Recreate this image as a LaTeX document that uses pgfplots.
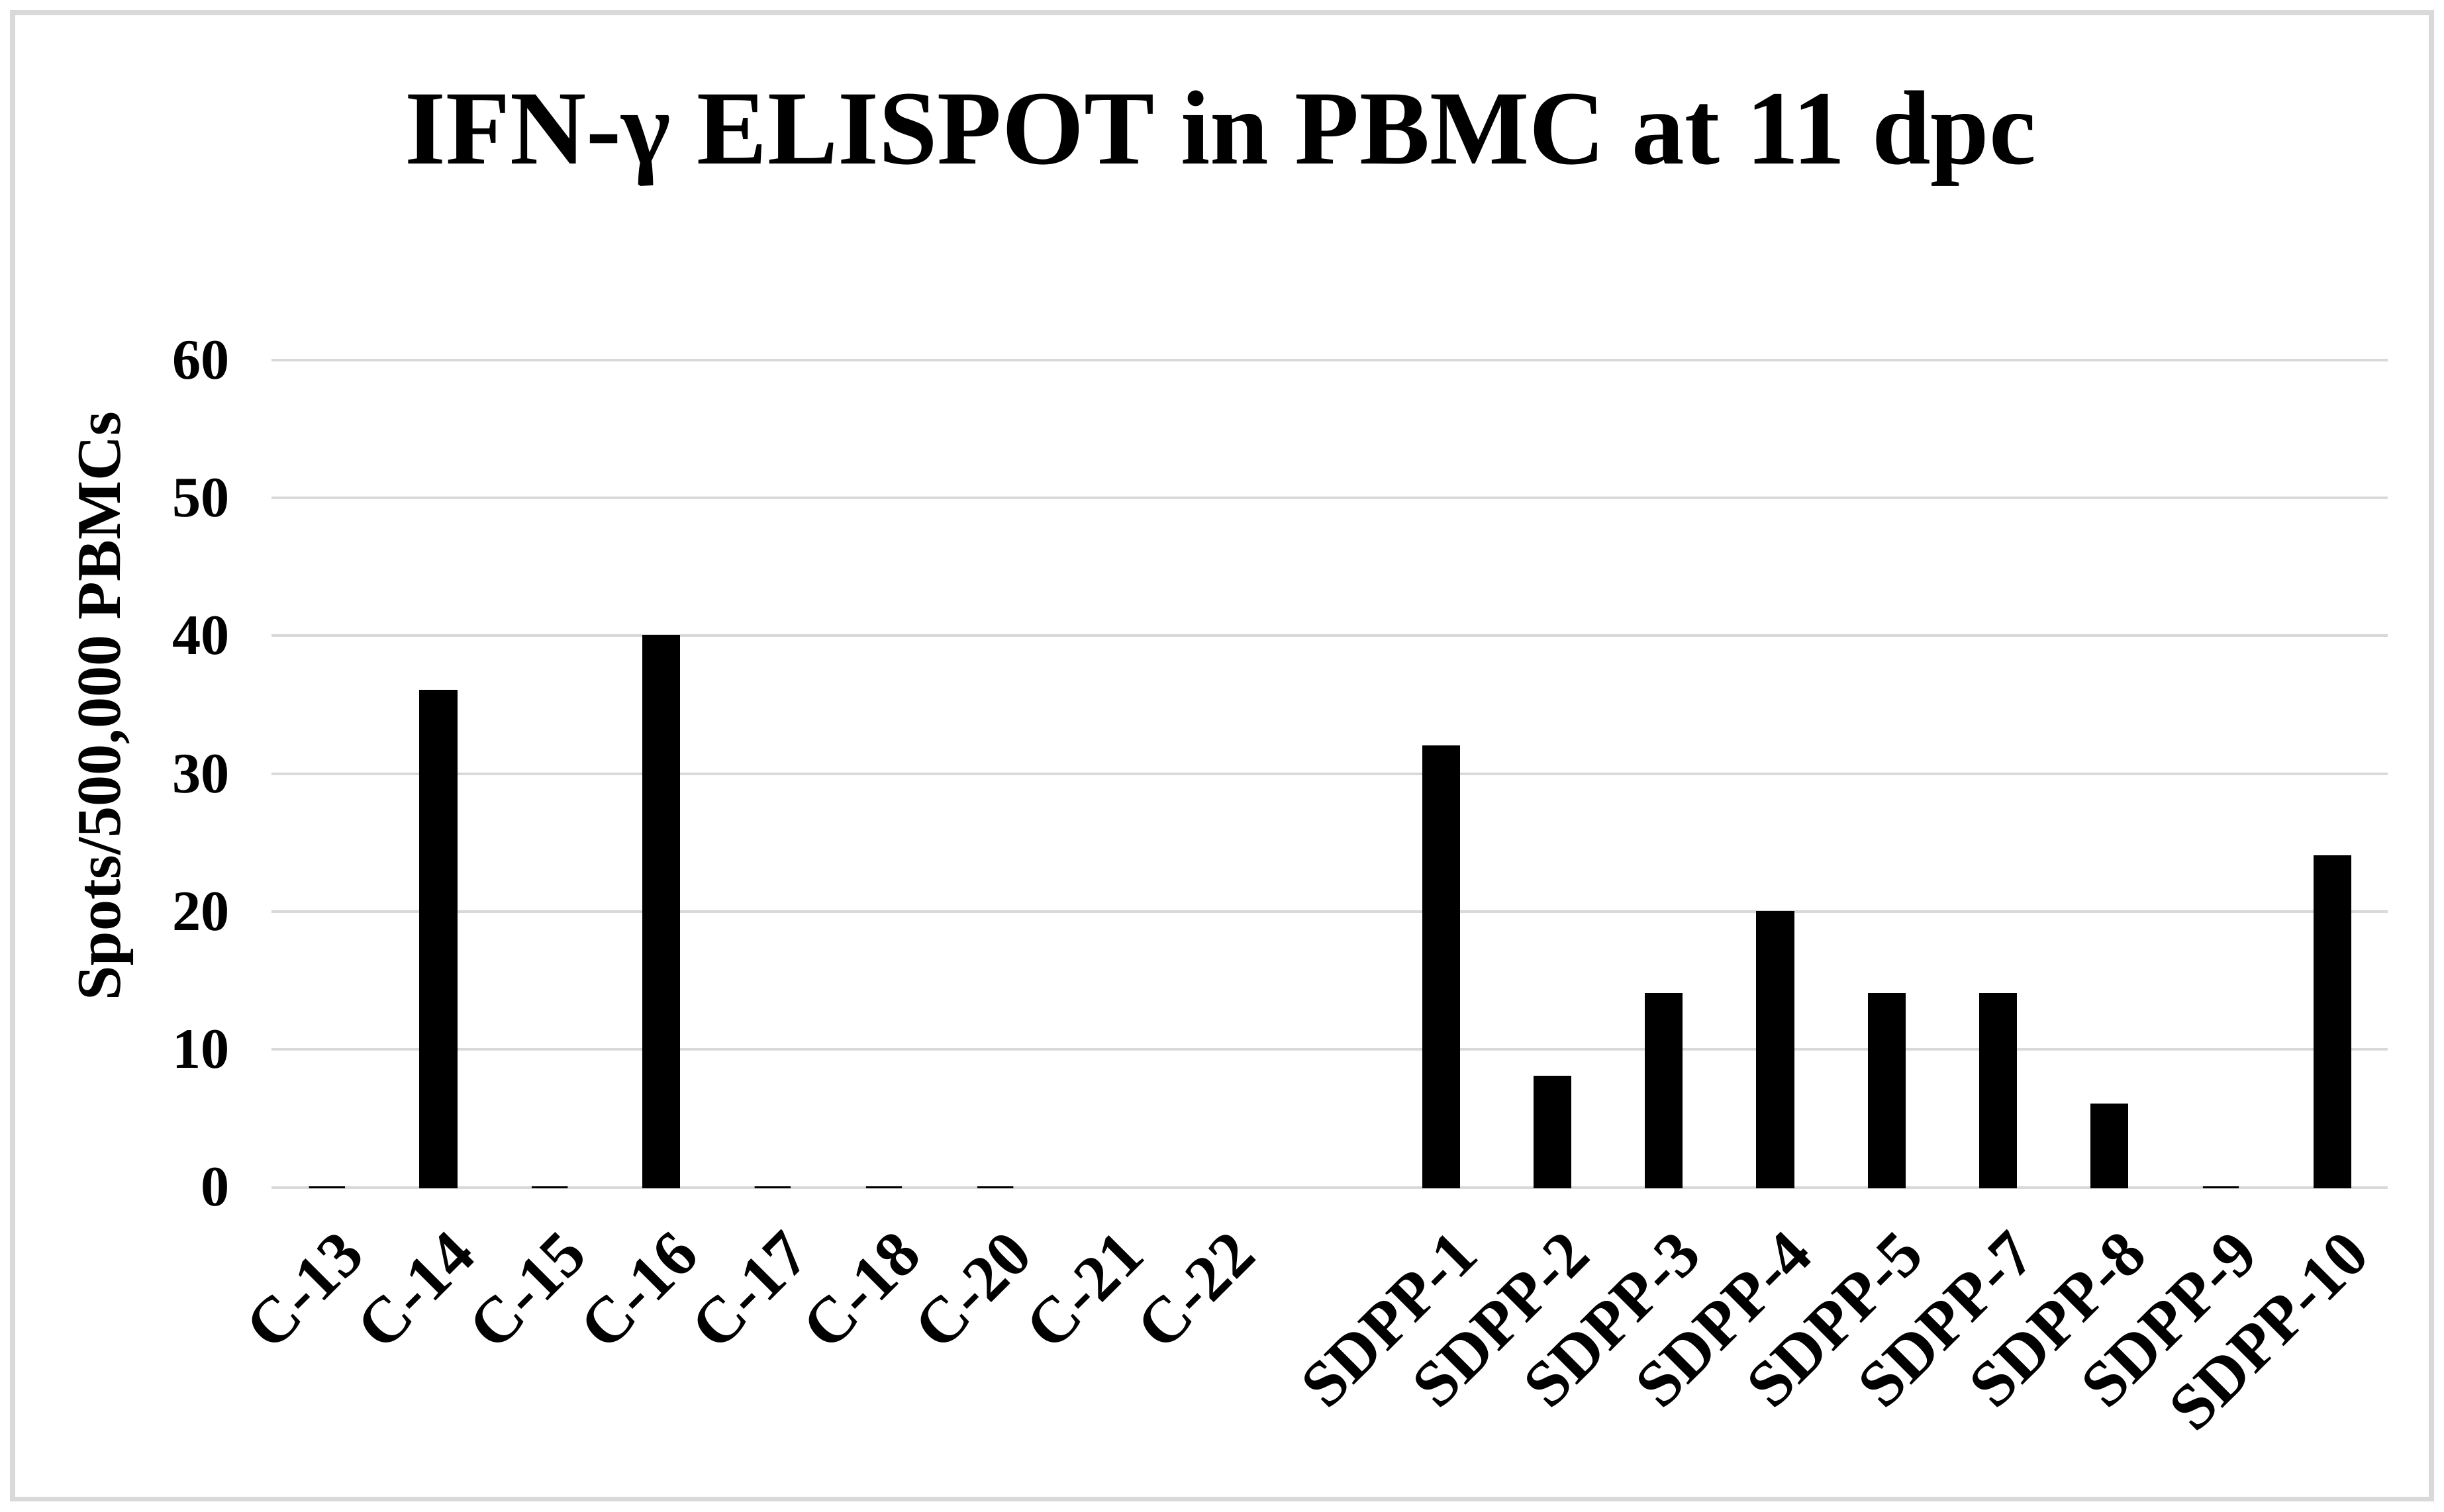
\documentclass[border=0pt]{standalone}
\usepackage{pgfplots}
\pgfplotsset{compat=1.18}
\usepackage{fontspec}
\setmainfont{Liberation Serif}
\definecolor{gridgray}{HTML}{D9D9D9}

\begin{document}
\begin{tikzpicture}
\begin{axis}[
  scale only axis,
  width=407.4pt, height=159.3pt,
  clip=false,
  ybar, bar width=6.9pt, bar shift=0pt,
  xmin=-0.5, xmax=18.5,
  ymin=0, ymax=60,
  ytick={0,10,...,60},
  xtick={0,...,18},
  xticklabels={C-13,C-14,C-15,C-16,C-17,C-18,C-20,C-21,C-22,,SDPP-1,SDPP-2,SDPP-3,SDPP-4,SDPP-5,SDPP-7,SDPP-8,SDPP-9,SDPP-10},
  major tick length=0pt,
  axis line style={draw=none},
  ymajorgrids,
  grid style={draw=gridgray, line width=0.5pt},
  /pgf/number format/assume math mode=true,
  yticklabel style={font=\fontsize{11}{13}\selectfont\bfseries, anchor=east, inner sep=0pt, xshift=-7.8pt},
  xticklabel style={font=\fontsize{12.5}{14}\selectfont\bfseries, rotate=45, anchor=east, inner sep=0pt, yshift=-11pt, xshift=-4pt},
]
% C-21 and C-22 have no value; slot 9 is an empty gap
\addplot[fill=black, draw=black, line width=0.4pt]
  coordinates {(0,0) (1,36) (2,0) (3,40) (4,0) (5,0) (6,0)
    (10,32) (11,8) (12,14) (13,20) (14,14) (15,14) (16,6) (17,0) (18,24)};

\node[rotate=90, font=\fontsize{12}{14}\selectfont\bfseries]
  at ([xshift=-31.8pt, yshift=13pt]rel axis cs:0,0.5) {Spots/500,000 PBMCs};
\node[anchor=base, font=\fontsize{20.3}{24}\selectfont\bfseries]
  at ([xshift=-21pt, yshift=37.8pt]rel axis cs:0.5,1) {IFN-γ ELISPOT in PBMC at 11 dpc};
\draw[gridgray, line width=1pt]
  ([xshift=-49.8pt, yshift=-60pt]rel axis cs:0,0) rectangle ([xshift=8.4pt, yshift=66.9pt]rel axis cs:1,1);
\path ([xshift=-52.2pt, yshift=-62.4pt]rel axis cs:0,0) rectangle ([xshift=10.8pt, yshift=69.3pt]rel axis cs:1,1);
\end{axis}
\end{tikzpicture}
\end{document}
